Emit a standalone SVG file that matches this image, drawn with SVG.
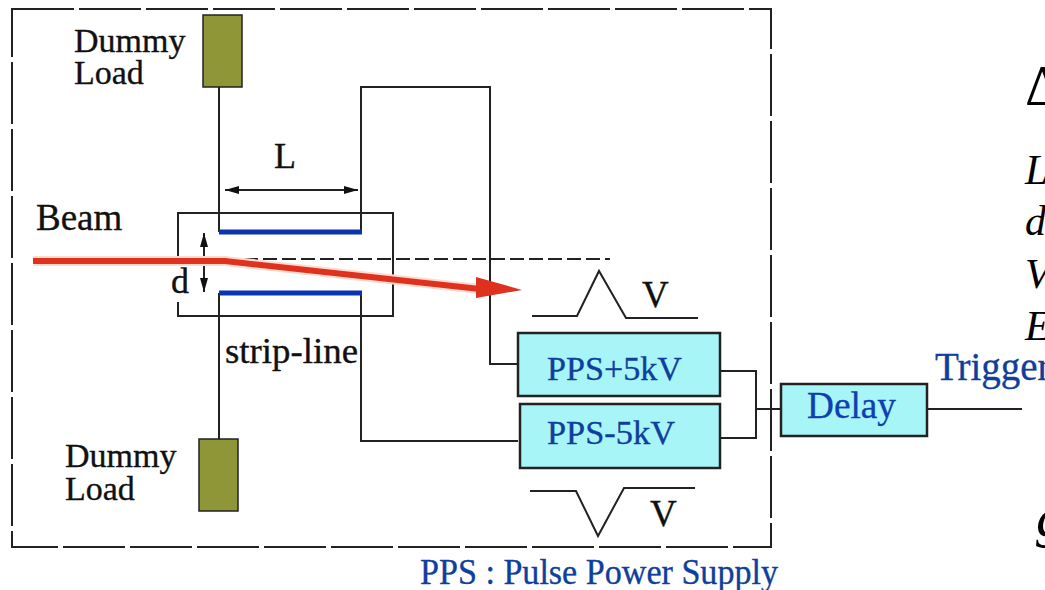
<svg xmlns="http://www.w3.org/2000/svg" width="1045" height="590" viewBox="0 0 1045 590">
<style>
text{font-family:"Liberation Serif",serif;fill:#111;stroke:#111;stroke-width:.35}
.b{fill:#0f3f9c;stroke:#0f3f9c}
.i{font-style:italic;font-size:42px;fill:#000;stroke:none}
.w{fill:none;stroke:#222;stroke-width:2}
.box{fill:#a8f5f7;stroke:#222;stroke-width:2.5}
.load{fill:#8f9638;stroke:#222;stroke-width:1.5}
.plate{stroke:#0a35b0;stroke-width:5}
</style>
<defs>
<marker id="ah" markerUnits="userSpaceOnUse" markerWidth="14" markerHeight="8" refX="14" refY="4" orient="auto-start-reverse"><path d="M0 0L14 4L0 8z" fill="#111"/></marker>
</defs>
<rect width="1045" height="590" fill="#fff"/>
<g id="connectors">
<rect x="12" y="9" width="759" height="538" fill="none" stroke="#222" stroke-width="2" stroke-dasharray="62 5"/>
<path class="w" d="M219 87V232M361 232V87H490V364H518M219 293V439M361 293V441H518M720 371H756V438H720M756 409H781M928 409H1022"/>
<path class="w" d="M178 260V213H393V316H178V302"/>
<path d="M225 190H358" class="w" marker-start="url(#ah)" marker-end="url(#ah)"/>
<path d="M204 233V292" class="w" marker-start="url(#ah)" marker-end="url(#ah)"/>
<path d="M225 259H610" fill="none" stroke="#222" stroke-width="2" stroke-dasharray="14 5"/>
<path class="w" d="M532 316H577L599 271L626 318H698"/>
<path class="w" d="M530 491H576L598 536L624 488H695"/>
</g>
<g id="beam">
<path d="M33 261H225L480 289" fill="none" stroke="#fbdccf" stroke-width="10"/>
<path d="M33 261H225L480 289" fill="none" stroke="#e0301e" stroke-width="6"/>
<path d="M476 277L522 290L476 298z" fill="#e0301e"/>
<text x="36" y="230" font-size="37">Beam</text>
</g>
<g id="dummy-load-top">
<rect class="load" x="203" y="15" width="39" height="72"/>
<text x="74" y="52" font-size="34">Dummy</text>
<text x="74" y="84" font-size="34">Load</text>
</g>
<g id="dummy-load-bottom">
<rect class="load" x="199" y="439" width="39" height="72"/>
<text x="65" y="467" font-size="34">Dummy</text>
<text x="65" y="500" font-size="34">Load</text>
</g>
<g id="strip-line">
<line class="plate" x1="219" y1="232" x2="362" y2="232"/>
<line class="plate" x1="219" y1="293" x2="362" y2="293"/>
<text x="274" y="168" font-size="36">L</text>
<text x="171" y="293" font-size="36">d</text>
<text x="225" y="363" font-size="36" textLength="133" lengthAdjust="spacingAndGlyphs">strip-line</text>
</g>
<g id="pps-plus">
<rect class="box" x="518" y="333" width="202" height="63"/>
<text class="b" x="547" y="380" font-size="34" textLength="135" lengthAdjust="spacingAndGlyphs">PPS+5kV</text>
<text x="642" y="307" font-size="37">V</text>
</g>
<g id="pps-minus">
<rect class="box" x="520" y="404" width="200" height="64"/>
<text class="b" x="547" y="444" font-size="34" textLength="128" lengthAdjust="spacingAndGlyphs">PPS-5kV</text>
<text x="650" y="526" font-size="37">V</text>
</g>
<g id="delay">
<rect class="box" x="781" y="384" width="146" height="52"/>
<text class="b" x="807" y="418" font-size="37" textLength="89" lengthAdjust="spacingAndGlyphs" style="fill:#0f40b0;stroke:#0f40b0">Delay</text>
</g>
<text class="b" x="935" y="380" font-size="39">Trigger</text>
<text class="b" x="420" y="584" font-size="36" textLength="358" lengthAdjust="spacingAndGlyphs">PPS : Pulse Power Supply</text>
<g id="formula">
<text class="i" x="1025" y="105" style="font-style:normal;font-size:58px">Δ</text>
<text class="i" x="1025" y="184">L</text>
<text class="i" x="1025" y="235">d</text>
<text class="i" x="1025" y="288">V</text>
<text class="i" x="1025" y="340">E</text>
<text class="i" x="1036" y="536" style="font-size:58px">g</text>
</g>
</svg>
